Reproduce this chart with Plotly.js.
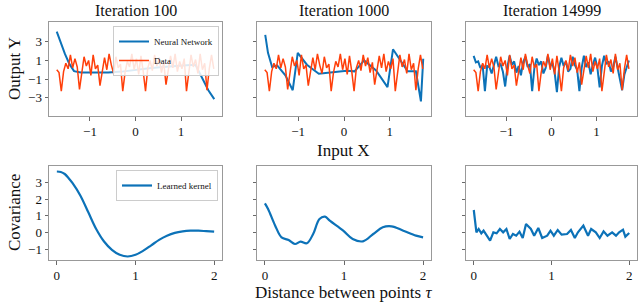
<!DOCTYPE html>
<html><head><meta charset="utf-8">
<script src="https://cdn.plot.ly/plotly-3.0.1.min.js"></script>
<style>html,body{margin:0;padding:0;background:#fff}#chart{width:640px;height:303px}</style>
</head><body><div id="chart"></div>
<script>
// ---------- data ----------
const titles = ["Iteration 100", "Iteration 1000", "Iteration 14999"];
const dataX = [-1.73,-1.68,-1.63,-1.58,-1.53,-1.48,-1.43,-1.38,-1.33,-1.28,-1.23,-1.18,-1.13,-1.08,-1.03,-0.98,-0.93,-0.88,-0.83,-0.78,-0.73,-0.68,-0.63,-0.58,-0.53,-0.48,-0.43,-0.38,-0.33,-0.28,-0.23,-0.18,-0.13,-0.08,-0.03,0.02,0.07,0.12,0.17,0.22,0.27,0.32,0.37,0.42,0.47,0.52,0.57,0.62,0.67,0.72,0.77,0.82,0.87,0.92,0.97,1.02,1.07,1.12,1.17,1.22,1.27,1.32,1.37,1.42,1.47,1.52,1.57,1.62,1.67,1.72];
const dataY = [0.0,-0.3,-2.3,-0.2,0.7,0.1,1.6,0.2,1.2,0.3,-2.1,-0.1,1.4,0.4,1.0,-0.6,1.6,0.1,0.5,-1.7,-0.2,1.3,0.0,1.7,0.5,-0.4,1.4,0.2,0.6,-2.3,-0.3,0.9,0.3,1.7,0.0,1.2,-0.5,1.5,-0.2,-2.3,0.2,1.0,-0.1,1.6,0.4,1.3,-0.3,0.8,-1.6,-0.1,1.5,0.2,1.7,-0.2,0.9,0.1,1.2,-2.3,-0.2,1.6,0.3,1.1,-0.4,1.7,0.0,0.7,-2.2,0.1,1.6,0.1];
const nn100X = [-1.73,-1.65,-1.55,-1.45,-1.35,-1.2,-0.9,-0.6,-0.3,0,0.3,0.6,0.9,1.2,1.32,1.45,1.6,1.73];
const nn100Y = [4.1,3.0,1.7,0.6,-0.15,-0.3,-0.32,-0.3,-0.2,0.0,0.15,0.3,0.45,0.52,0.5,-0.7,-2.2,-3.15];
const nn1000X = [-1.72,-1.66,-1.57,-1.46,-1.28,-1.12,-1.01,-0.81,-0.55,-0.37,0.06,0.23,0.44,0.7,0.95,1.07,1.24,1.39,1.57,1.68,1.73];
const nn1000Y = [3.75,1.82,0.29,0.47,-0.6,-2.2,1.82,0.54,-0.43,-0.32,-0.1,-0.17,1.0,-0.07,-1.86,2.2,0.9,-0.17,-0.17,-3.4,1.18];
const nn14999Y = [1.5,0.8,0.9,0.2,0.5,-2.3,0.4,0.3,-0.4,0.6,1.4,0.4,0.6,-0.2,-1.8,0.3,1.5,0.5,0.9,-0.3,0.4,-0.6,0.8,1.4,0.3,0.6,-2.3,0.2,1.2,0.5,0.9,-0.4,0.2,1.5,0.4,0.7,-0.3,-2.4,0.3,1.3,0.4,0.9,-0.2,0.1,1.4,0.5,0.0,-2.3,0.2,1.5,0.3,0.8,-0.5,0.6,1.3,0.2,-1.9,0.4,1.5,0.6,0.9,-0.2,0.3,1.4,0.2,-0.6,-2.2,-0.5,0.4,1.0];
const k1X = [0,0.05,0.1,0.15,0.2,0.3,0.4,0.5,0.6,0.7,0.8,0.9,1.0,1.1,1.2,1.3,1.4,1.5,1.6,1.7,1.8,1.9,2.0];
const k1Y = [3.65,3.62,3.5,3.25,2.95,2.2,1.2,0.2,-0.55,-1.05,-1.35,-1.45,-1.35,-1.1,-0.78,-0.45,-0.2,-0.03,0.06,0.1,0.1,0.07,0.04];
const k2X = [0,0.04,0.13,0.21,0.3,0.38,0.45,0.53,0.61,0.69,0.76,0.82,0.99,1.11,1.24,1.37,1.49,1.6,1.75,1.91,2.0];
const k2Y = [1.74,1.4,0.4,-0.3,-0.46,-0.7,-0.56,-0.66,-0.1,0.8,0.94,0.7,0.1,-0.4,-0.54,-0.1,0.3,0.36,0.1,-0.2,-0.3];
const k3X = [0,0.034,0.063,0.097,0.126,0.168,0.21,0.252,0.294,0.336,0.378,0.42,0.462,0.504,0.546,0.588,0.63,0.672,0.735,0.777,0.83,0.88,0.945,0.987,1.03,1.08,1.13,1.2,1.25,1.3,1.34,1.41,1.47,1.51,1.57,1.62,1.67,1.72,1.78,1.83,1.87,1.92,1.95,2.0];
const k3Y = [1.34,0,0.2,-0.06,0.1,-0.2,-0.5,0,-0.06,0.2,0,0.2,-0.4,-0.1,-0.2,0.04,-0.34,0.5,0.2,-0.2,0.26,-0.34,-0.2,0.1,-0.2,0.14,-0.14,-0.1,0.14,-0.34,0,0.4,-0.2,0.2,0,-0.34,0.06,-0.2,0,-0.2,0,0.16,-0.26,-0.04];
const topTicks = [3,1,-1,-3];
const topTickText = ["3","1","\u22121","\u22123"];
const botTicks = [3,2,1,0,-1];
const botTickText = ["3","2","1","0","\u22121"];
const topXTicks = [-1,0,1];
const topXTickText = ["\u22121","0","1"];
const botXTicks = [0,1,2];

// ---------- chart ----------
const BLUE = "#0c72b8", RED = "#ff3f0a";
const FONT = "Liberation Serif";
const traces = [];
const nnX = [nn100X, nn1000X, dataX];
const nnY = [nn100Y, nn1000Y, nn14999Y];
for (let i = 0; i < 3; i++) {
  const xa = i === 0 ? "x" : "x" + (i + 1), ya = i === 0 ? "y" : "y" + (i + 1);
  traces.push({x: nnX[i], y: nnY[i], xaxis: xa, yaxis: ya, mode: "lines", name: "Neural Network",
    line: {color: BLUE, width: 2}, showlegend: i === 0, legend: "legend"});
  traces.push({x: dataX, y: dataY, xaxis: xa, yaxis: ya, mode: "lines", name: "Data",
    line: {color: RED, width: 1.5}, showlegend: i === 0, legend: "legend"});
}
const kX = [k1X, k2X, k3X], kY = [k1Y, k2Y, k3Y];
for (let i = 0; i < 3; i++) {
  traces.push({x: kX[i], y: kY[i], xaxis: "x" + (i + 4), yaxis: "y" + (i + 4), mode: "lines",
    name: "Learned kernel", line: {color: BLUE, width: 2.2, shape: i < 2 ? "spline" : "linear"},
    showlegend: i === 0, legend: "legend2"});
}
const xd = [[49/640, 222/640], [257/640, 431/640], [466/640, 637/640]];
const topD = [1 - 116/303, 1 - 22.3/303], botD = [1 - 260/303, 1 - 166/303];
const axBase = {showline: true, mirror: true, linecolor: "#999", linewidth: 1, ticks: "outside",
  ticklen: 3.5, tickwidth: 0.8, tickcolor: "#444", showgrid: false, zeroline: false,
  tickfont: {family: FONT, size: 13, color: "#111"}};
const layout = {width: 640, height: 303, margin: {l: 0, r: 0, t: 0, b: 0},
  paper_bgcolor: "#fff", plot_bgcolor: "#fff", font: {family: FONT, color: "#111"},
  annotations: [], showlegend: true,
  legend: {x: 219/640, xanchor: "right", y: 1 - 26/303, yanchor: "top", bgcolor: "rgba(255,255,255,0.85)",
    bordercolor: "#ccc", borderwidth: 1, font: {family: FONT, size: 9}, tracegroupgap: 0, itemwidth: 30},
  legend2: {x: 218/640, xanchor: "right", y: 1 - 170/303, yanchor: "top", bgcolor: "rgba(255,255,255,0.85)",
    bordercolor: "#ccc", borderwidth: 1, font: {family: FONT, size: 9}, itemwidth: 30}
};
for (let i = 0; i < 3; i++) {
  const s = i === 0 ? "" : String(i + 1);
  layout["xaxis" + s] = Object.assign({}, axBase, {domain: xd[i], anchor: "y" + s, range: [-1.9, 1.9],
    tickmode: "array", tickvals: topXTicks, ticktext: topXTickText});
  layout["yaxis" + s] = Object.assign({}, axBase, {domain: topD, anchor: "x" + s, range: [-4.97, 5.1],
    tickmode: "array", tickvals: topTicks, ticktext: topTickText, showticklabels: i === 0});
  const b = String(i + 4);
  layout["xaxis" + b] = Object.assign({}, axBase, {domain: xd[i], anchor: "y" + b, range: [-0.1, 2.1],
    tickmode: "array", tickvals: botXTicks, ticktext: botXTicks.map(String)});
  layout["yaxis" + b] = Object.assign({}, axBase, {domain: botD, anchor: "x" + b, range: [-1.66, 3.98],
    tickmode: "array", tickvals: botTicks, ticktext: botTickText, showticklabels: i === 0});
  layout.annotations.push({text: titles[i], xref: "paper", yref: "paper", x: (xd[i][0] + xd[i][1]) / 2,
    y: 1 - 21/303, xanchor: "center", yanchor: "bottom", showarrow: false, font: {family: FONT, size: 16}});
}
layout.annotations.push({text: "Output Y", xref: "paper", yref: "paper", x: 14/640, y: 1 - 69/303,
  textangle: -90, showarrow: false, xanchor: "center", yanchor: "middle", font: {family: FONT, size: 17}});
layout.annotations.push({text: "Covariance", xref: "paper", yref: "paper", x: 14/640, y: 1 - 213/303,
  textangle: -90, showarrow: false, xanchor: "center", yanchor: "middle", font: {family: FONT, size: 17}});
layout.annotations.push({text: "Input X", xref: "paper", yref: "paper", x: 343/640, y: 1 - 151/303,
  showarrow: false, xanchor: "center", yanchor: "middle", font: {family: FONT, size: 17}});
layout.annotations.push({text: "Distance between points <i>τ</i>", xref: "paper", yref: "paper", x: 343/640, y: 1 - 292/303,
  showarrow: false, xanchor: "center", yanchor: "middle", font: {family: FONT, size: 17}});
Plotly.newPlot("chart", traces, layout, {staticPlot: true, displayModeBar: false});
</script></body></html>
